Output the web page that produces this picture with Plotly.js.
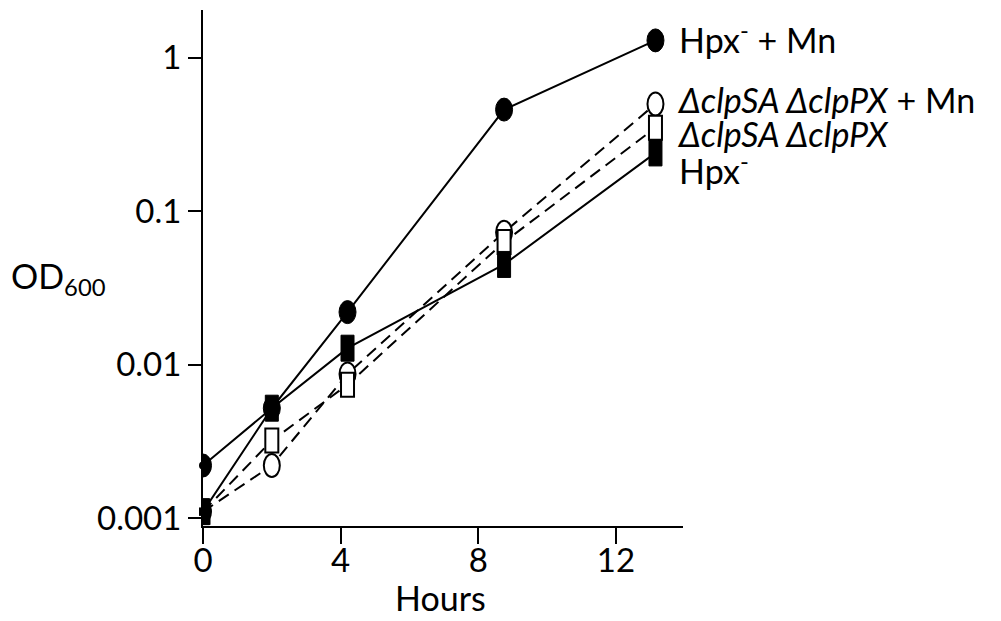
<!DOCTYPE html>
<html>
<head>
<meta charset="utf-8">
<script src="https://cdn.plot.ly/plotly-3.0.1.min.js"></script>
<style>html,body{margin:0;padding:0;background:#fff;}#chart{width:1001px;height:621px;}</style>
</head>
<body>
<div id="chart"></div>
<script>
// Data
const hours = [0, 2, 4.2, 8.75, 13.15];
const hpxMn = [0.0022, 0.0052, 0.022, 0.46, 1.3];      // Hpx- + Mn
const clpMn = [0.0011, 0.0022, 0.0087, 0.073, 0.5];    // ΔclpSA ΔclpPX + Mn
const clp   = [0.0011, 0.0032, 0.0074, 0.063, 0.35];   // ΔclpSA ΔclpPX
const hpx   = [0.0011, 0.0052, 0.0128, 0.045, 0.24];   // Hpx-
const yTickVals = [0.001, 0.01, 0.1, 1];
const yTickText = ['0.001', '0.01', '0.1', '1'];
const xTickVals = [0, 4, 8, 12];
const seriesLabels = ['Hpx<sup>-</sup> + Mn', '<i>ΔclpSA ΔclpPX</i> + Mn', '<i>ΔclpSA ΔclpPX</i>', 'Hpx<sup>-</sup>'];

const FONT = 'Lato, "Open Sans", sans-serif';
const Y_RANGE_LOG = [-3.052, 0.312];

function lineTrace(y, dash, sym, name) {
  return {
    x: hours, y: y, name: name, type: 'scatter', mode: 'lines+markers',
    line: {color: 'black', width: 2, dash: dash},
    marker: {symbol: sym, size: 8, color: 'black'},
    cliponaxis: false, showlegend: false, hoverinfo: 'skip'
  };
}

const data = [
  lineTrace(hpxMn, 'solid', 'circle', 'Hpx- + Mn'),
  lineTrace(clpMn, '12px,7px', 'circle', 'ΔclpSA ΔclpPX + Mn'),
  lineTrace(clp, '12px,7px', 'square', 'ΔclpSA ΔclpPX'),
  lineTrace(hpx, 'solid', 'square', 'Hpx-')
];

// Tall marker glyphs anchored at the data points (pixel-sized shapes on an
// invisible linear overlay axis that mirrors the log axis in log10 units)
function glyphs(ys, type, w, h, fill, lw) {
  return hours.map((t, i) => ({
    type: type, xref: 'x', yref: 'y2', layer: 'above',
    xsizemode: 'pixel', ysizemode: 'pixel',
    xanchor: t, yanchor: Math.log10(ys[i]),
    x0: -w / 2, x1: w / 2, y0: -h / 2, y1: h / 2,
    fillcolor: fill, line: {color: 'black', width: lw}
  }));
}
const shapes = [].concat(
  glyphs(hpxMn, 'circle', 17, 23, 'black', 1),
  glyphs(clpMn, 'circle', 16, 23, 'white', 2),
  glyphs(clp, 'rect', 13, 24, 'white', 2),
  glyphs(hpx, 'rect', 13, 26, 'black', 1)
);

const labelY = [0.9448, 0.8266, 0.7607, 0.6928];
const labelX = [0.9875, 0.9833, 0.9833, 0.9875];
const annotations = seriesLabels.map((s, i) => ({
  text: s, xref: 'paper', yref: 'paper', x: labelX[i], y: labelY[i],
  xanchor: 'left', yanchor: 'middle', showarrow: false,
  font: {family: FONT, size: 34, color: 'black'}
}));
annotations.push({
  text: 'OD<sub>600</sub>', xref: 'paper', yref: 'paper', x: -0.4042, y: 0.4797,
  xanchor: 'left', yanchor: 'middle', showarrow: false,
  font: {family: FONT, size: 34, color: 'black'}
});
annotations.push({
  text: 'Hours', xref: 'paper', yref: 'paper', x: 0.49375, y: -0.1376,
  xanchor: 'center', yanchor: 'middle', showarrow: false,
  font: {family: FONT, size: 34, color: 'black'}
});

const layout = {
  width: 1001, height: 621,
  margin: {l: 203, r: 318, t: 10, b: 95},
  paper_bgcolor: 'white', plot_bgcolor: 'white',
  font: {family: FONT, color: 'black'},
  showlegend: false,
  xaxis: {
    range: [0, 13.95], showgrid: false, zeroline: false,
    showline: true, linecolor: 'black', linewidth: 2,
    ticks: 'outside', ticklen: 16, tickwidth: 2, tickcolor: 'black',
    tickvals: xTickVals, ticktext: xTickVals.map(String),
    ticklabelstandoff: -12,
    tickfont: {family: FONT, size: 33, color: 'black'}
  },
  yaxis: {
    type: 'log', range: Y_RANGE_LOG, showgrid: false, zeroline: false,
    showline: true, linecolor: 'black', linewidth: 2,
    ticks: 'outside', ticklen: 13, tickwidth: 2, tickcolor: 'black',
    tickvals: yTickVals, ticktext: yTickText,
    tickfont: {family: FONT, size: 33, color: 'black'}
  },
  yaxis2: {
    type: 'linear', range: Y_RANGE_LOG, overlaying: 'y', visible: false,
    showgrid: false, zeroline: false, fixedrange: true
  },
  shapes: shapes,
  annotations: annotations
};

Plotly.newPlot('chart', data, layout, {staticPlot: true, displayModeBar: false});
</script>
</body>
</html>
